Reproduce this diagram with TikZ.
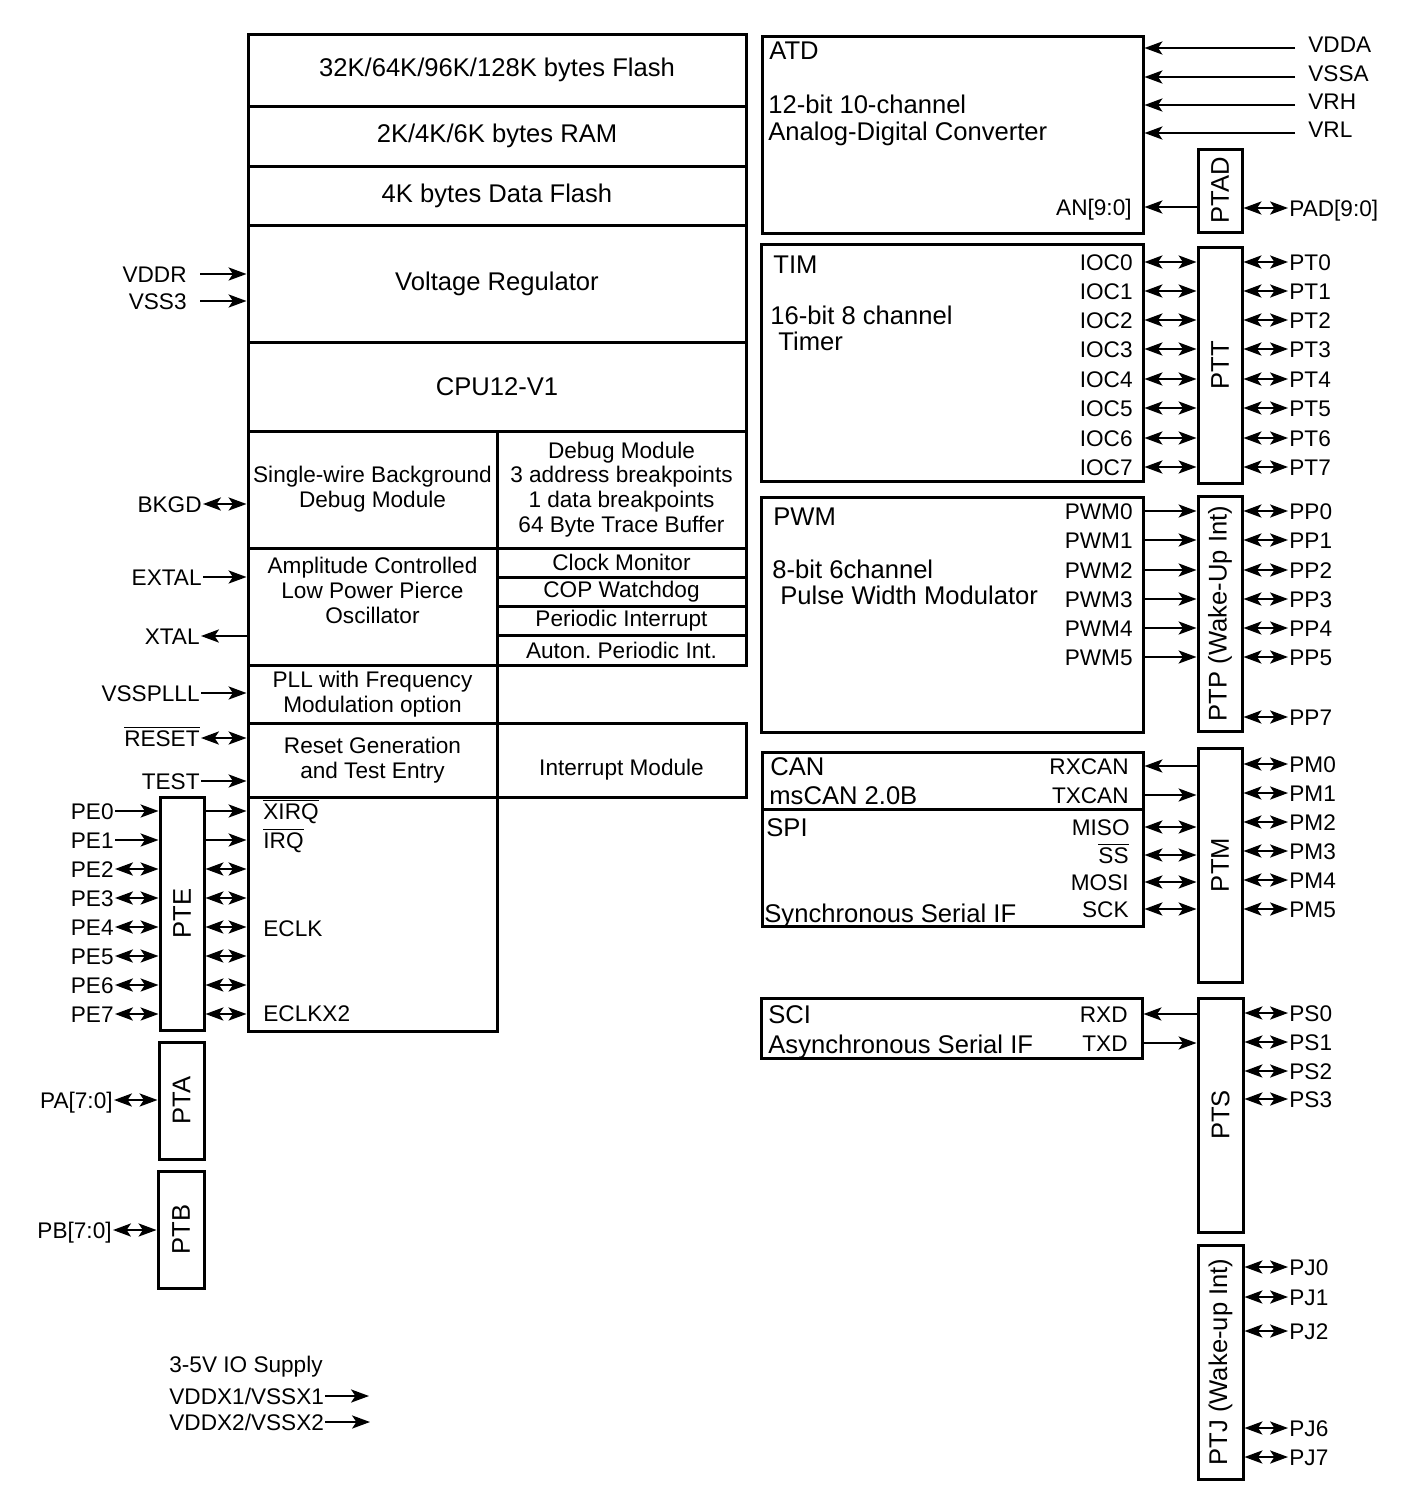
\documentclass[tikz,border=0pt]{standalone}
\usepackage{graphicx}
\usepackage{fontspec}
\setmainfont{Liberation Sans}
\usetikzlibrary{arrows.meta,fit}

\newcommand\bigtxt{\fontsize{12.8}{13.4}\selectfont}
\newcommand\smtxt{\fontsize{11.3}{12.4}\selectfont}
\newcommand\negsig[1]{$\overline{\mbox{#1}}$}

\tikzset{
  blk/.style={draw, line width=1.5pt, inner sep=0pt},
  bigt/.style={inner sep=0pt, font=\bigtxt, align=center},
  txt/.style={inner sep=0pt, font=\smtxt, align=center},
  modname/.style={anchor=west, inner sep=0pt, font=\bigtxt, text height=9.2pt, text depth=0pt},
  sig/.style={inner sep=0.5pt, font=\smtxt, text height=8.1pt, text depth=0pt},
  wire/.style={line width=0.8pt},
  >={Stealth[length=9pt,width=6.6pt,inset=2.2pt]}
}

\begin{document}
\begin{tikzpicture}[x=0.5pt, y=-0.5pt]
\useasboundingbox (0,0) rectangle (1419,1506);

\node[blk, fit={(248,34) (746,106)}] (flash) {};
\node[blk, fit={(248,106) (746,166)}] (ram) {};
\node[blk, fit={(248,166) (746,225)}] (dflash) {};
\node[blk, fit={(248,225) (746,342)}] (vreg) {};
\node[blk, fit={(248,342) (746,431)}] (cpu) {};
\node[blk, fit={(248,431) (497,548)}] (bdm) {};
\node[blk, fit={(497,431) (746,548)}] (dbg) {};
\node[blk, fit={(248,548) (497,665)}] (osc) {};
\node[blk, fit={(497,548) (746,577)}] (clkmon) {};
\node[blk, fit={(497,577) (746,606)}] (cop) {};
\node[blk, fit={(497,606) (746,635)}] (pit) {};
\node[blk, fit={(497,635) (746,665)}] (api) {};
\node[blk, fit={(248,665) (497,723)}] (pll) {};
\node[blk, fit={(248,723) (497,797)}] (rst) {};
\node[blk, fit={(497,723) (746,797)}] (intm) {};
\node[blk, fit={(248,797) (497,1031)}] (mebi) {};

\node[bigt] (flash-txt) at (flash.center) {32K/64K/96K/128K bytes Flash};
\node[bigt] (ram-txt) at (ram.center) {2K/4K/6K bytes RAM};
\node[bigt] (dflash-txt) at (dflash.center) {4K bytes Data Flash};
\node[bigt] (vreg-txt) at (vreg.center) {Voltage Regulator};
\node[bigt] (cpu-txt) at (cpu.center) {CPU12-V1};
\node[txt] (bdm-txt) at (bdm.center) {Single-wire Background\\Debug Module};
\node[txt] (dbg-txt) at (dbg.center) {Debug Module\\3 address breakpoints\\1 data breakpoints\\64 Byte Trace Buffer};
\node[txt, anchor=north] (osc-txt) at (372.5,557) {Amplitude Controlled\\Low Power Pierce\\Oscillator};
\node[txt] (clkmon-txt) at (clkmon.center) {Clock Monitor};
\node[txt] (cop-txt) at (cop.center) {COP Watchdog};
\node[txt] (pit-txt) at (pit.center) {Periodic Interrupt};
\node[txt] (api-txt) at (api.center) {Auton.\ Periodic Int.};
\node[txt] (pll-txt) at (pll.center) {PLL with Frequency\\Modulation option};
\node[txt] (rst-txt) at (rst.center) {Reset Generation\\and Test Entry};
\node[txt] (intm-txt) at (621.5,770) {Interrupt Module};
\node[sig, anchor=west] (xirq) at (262,811) {\negsig{XIRQ}};
\node[sig, anchor=west] (irq) at (262,840) {\negsig{IRQ}};
\node[sig, anchor=west] (eclk) at (262,928) {ECLK};
\node[sig, anchor=west] (eclkx2) at (262,1013) {ECLKX2};

\node[blk, fit={(160,797) (204,1030)}] (pte) {};
\node[blk, fit={(159,1042) (204,1159)}] (pta) {};
\node[blk, fit={(158,1171) (204,1288)}] (ptb) {};
\node[bigt] (pte-txt) at (pte.center) {\rotatebox{90}{PTE}};
\node[bigt] (pta-txt) at (pta.center) {\rotatebox{90}{PTA}};
\node[bigt] (ptb-txt) at (ptb.center) {\rotatebox{90}{PTB}};

\node[sig, anchor=east] (vddr) at (188,274) {VDDR};
\node[sig, anchor=east] (vss3) at (188,301) {VSS3};
\draw[wire,->] ([xshift=6pt]vddr.east) -- (vreg.west |- vddr);
\draw[wire,->] ([xshift=6pt]vss3.east) -- (vreg.west |- vss3);
\node[sig, anchor=east] (bkgd) at (203,504) {BKGD};
\draw[wire,<->] (bkgd.east) -- (bdm.west |- bkgd);
\node[sig, anchor=east] (extal) at (203,577) {EXTAL};
\draw[wire,->] (extal.east) -- (osc.west |- extal);
\node[sig, anchor=east] (xtal) at (201,636) {XTAL};
\draw[wire,->] (osc.west |- xtal) -- (xtal.east);
\node[sig, anchor=east] (vsspll) at (201,693) {VSSPLLL};
\draw[wire,->] (vsspll.east) -- (pll.west |- vsspll);
\node[sig, anchor=east] (reset) at (201,738) {\negsig{RESET}};
\draw[wire,<->] (reset.east) -- (rst.west |- reset);
\node[sig, anchor=east] (test) at (201,781) {TEST};
\draw[wire,->] (test.east) -- (rst.west |- test);

\foreach \i/\y in {0/811,1/840,2/869,3/898,4/927,5/956,6/985,7/1014}
  \node[sig, anchor=east] (pe\i) at (115,\y) {PE\i};
\foreach \i in {0,1} {
  \draw[wire,->] (pe\i.east) -- (pte.west |- pe\i);
  \draw[wire,->] (pte.east |- pe\i) -- (mebi.west |- pe\i);
}
\foreach \i in {2,...,7} {
  \draw[wire,<->] (pe\i.east) -- (pte.west |- pe\i);
  \draw[wire,<->] (pte.east |- pe\i) -- (mebi.west |- pe\i);
}

\node[sig, anchor=east] (pa) at (114,1100) {PA[7:0]};
\draw[wire,<->] (pa.east) -- (pta.west |- pa);
\node[sig, anchor=east] (pb) at (113,1230) {PB[7:0]};
\draw[wire,<->] (pb.east) -- (ptb.west |- pb);

\node[sig, anchor=west] (iosup) at (168,1364) {3-5V IO Supply};
\node[sig, anchor=west] (vddx1) at (168,1396) {VDDX1/VSSX1};
\node[sig, anchor=west] (vddx2) at (168,1422) {VDDX2/VSSX2};
\coordinate (vddx1-out) at (369,1396);
\coordinate (vddx2-out) at (370,1422);
\draw[wire,->] (vddx1.east) -- (vddx1-out);
\draw[wire,->] (vddx2.east) -- (vddx2-out);

\node[blk, fit={(762,36) (1143,233)}] (atd) {};
\node[modname] (atd-t1) at (769,50) {ATD};
\node[modname] (atd-t2) at (768,104) {12-bit 10-channel};
\node[modname] (atd-t3) at (768,131) {Analog-Digital Converter};
\node[sig, anchor=east] (an) at (1133,207) {AN[9:0]};
\foreach \s/\y in {VDDA/48,VSSA/77,VRH/105,VRL/133} {
  \node[sig, anchor=west] (\s) at (1307,\y-4) {\s};
  \coordinate (\s-in) at (1295,\y);
  \draw[wire,->] (\s-in) -- (atd.east |- \s-in);
}
\node[blk, fit={(1198,149) (1242,232)}] (ptad) {};
\node[bigt] (ptad-txt) at (ptad.center) {\rotatebox{90}{PTAD}};
\draw[wire,->] (ptad.west |- an) -- (atd.east |- an);
\node[sig, anchor=west] (pad) at (1288,208) {PAD[9:0]};
\draw[wire,<->] (ptad.east |- pad) -- (pad.west);

\node[blk, fit={(761,244) (1143,481)}] (tim) {};
\node[modname] (tim-t1) at (773,264) {TIM};
\node[modname] (tim-t2) at (770,315) {16-bit 8 channel};
\node[modname] (tim-t3) at (778,341) {Timer};
\node[blk, fit={(1198,247) (1242,483)}] (ptt) {};
\node[bigt] (ptt-txt) at (ptt.center) {\rotatebox{90}{PTT}};
\foreach \i/\y in {0/262,1/291,2/320,3/349,4/379,5/408,6/438,7/467} {
  \node[sig, anchor=east] (ioc\i) at (1134,\y) {IOC\i};
  \node[sig, anchor=west] (pt\i) at (1288,\y) {PT\i};
  \draw[wire,<->] (tim.east |- ioc\i) -- (ptt.west |- ioc\i);
  \draw[wire,<->] (ptt.east |- pt\i) -- (pt\i.west);
}

\node[blk, fit={(761,497) (1143,732)}] (pwm) {};
\node[modname] (pwm-t1) at (773,516) {PWM};
\node[modname] (pwm-t2) at (772,569) {8-bit 6channel};
\node[modname] (pwm-t3) at (780,595) {Pulse Width Modulator};
\node[blk, fit={(1198,496) (1242,731)}] (ptp) {};
\node[bigt] (ptp-txt) at (ptp.center) {\rotatebox{90}{PTP (Wake-Up Int)}};
\foreach \i/\y in {0/511,1/540,2/570,3/599,4/628,5/657} {
  \node[sig, anchor=east] (pwm\i) at (1134,\y) {PWM\i};
  \node[sig, anchor=west] (pp\i) at (1288,\y) {PP\i};
  \draw[wire,->] (pwm.east |- pwm\i) -- (ptp.west |- pwm\i);
  \draw[wire,<->] (ptp.east |- pp\i) -- (pp\i.west);
}
\node[sig, anchor=west] (pp7) at (1288,717) {PP7};
\draw[wire,<->] (ptp.east |- pp7) -- (pp7.west);

\node[blk, fit={(762,752) (1143,809)}] (can) {};
\node[blk, fit={(762,809) (1143,926)}] (spi) {};
\node[modname] (can-t1) at (770,766) {CAN};
\node[modname] (can-t2) at (769,795) {msCAN 2.0B};
\node[modname] (spi-t1) at (766,827) {SPI};
\node[modname] (spi-t2) at (764,913) {Synchronous Serial IF};
\node[blk, fit={(1198,748) (1242,982)}] (ptm) {};
\node[bigt] (ptm-txt) at (ptm.center) {\rotatebox{90}{PTM}};
\node[sig, anchor=east] (rxcan) at (1130,766) {RXCAN};
\node[sig, anchor=east] (txcan) at (1130,795) {TXCAN};
\draw[wire,->] (ptm.west |- rxcan) -- (can.east |- rxcan);
\draw[wire,->] (can.east |- txcan) -- (ptm.west |- txcan);
\node[sig, anchor=east] (miso) at (1131,827) {MISO};
\node[sig, anchor=east] (ss) at (1130,855) {\negsig{SS}};
\node[sig, anchor=east] (mosi) at (1130,882) {MOSI};
\node[sig, anchor=east] (sck) at (1130,909) {SCK};
\foreach \s in {miso,ss,mosi,sck}
  \draw[wire,<->] (spi.east |- \s) -- (ptm.west |- \s);
\foreach \i/\y in {0/764,1/793,2/822,3/851,4/880,5/909} {
  \node[sig, anchor=west] (pm\i) at (1288,\y) {PM\i};
  \draw[wire,<->] (ptm.east |- pm\i) -- (pm\i.west);
}

\node[blk, fit={(761,998) (1142,1058)}] (sci) {};
\node[modname] (sci-t1) at (768,1014) {SCI};
\node[modname] (sci-t2) at (768,1044) {Asynchronous Serial IF};
\node[blk, fit={(1198,998) (1243,1232)}] (pts) {};
\node[bigt] (pts-txt) at (pts.center) {\rotatebox{90}{PTS}};
\node[sig, anchor=east] (rxd) at (1129,1014) {RXD};
\node[sig, anchor=east] (txd) at (1129,1043) {TXD};
\draw[wire,->] (pts.west |- rxd) -- (sci.east |- rxd);
\draw[wire,->] (sci.east |- txd) -- (pts.west |- txd);
\foreach \i/\y in {0/1013,1/1042,2/1071,3/1099} {
  \node[sig, anchor=west] (ps\i) at (1288,\y) {PS\i};
  \draw[wire,<->] (pts.east |- ps\i) -- (ps\i.west);
}

\node[blk, fit={(1198,1245) (1243,1479)}] (ptj) {};
\node[bigt] (ptj-txt) at (ptj.center) {\rotatebox{90}{PTJ (Wake-up Int)}};
\foreach \i/\y in {0/1267,1/1297,2/1331,6/1428,7/1457} {
  \node[sig, anchor=west] (pj\i) at (1288,\y) {PJ\i};
  \draw[wire,<->] (ptj.east |- pj\i) -- (pj\i.west);
}
\end{tikzpicture}
\end{document}
